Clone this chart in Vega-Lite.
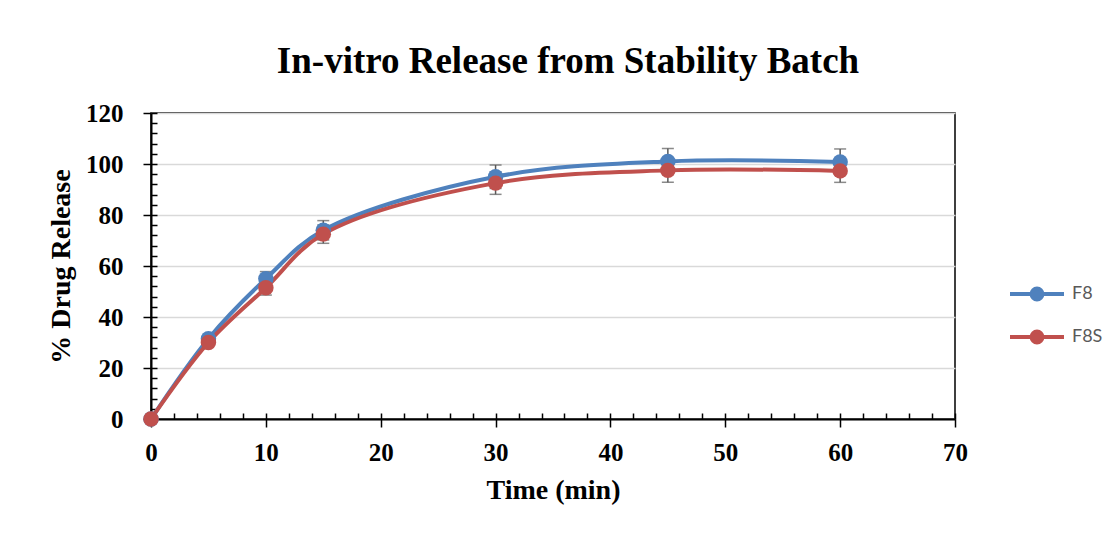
{
  "$schema": "https://vega.github.io/schema/vega-lite/v6.json",
  "width": 804,
  "height": 306,
  "autosize": {"type": "none"},
  "padding": {"left": 151, "top": 113, "right": 162, "bottom": 116},
  "background": "white",
  "config": {
    "view": {"stroke": "black", "strokeWidth": 1.5},
    "font": "Liberation Serif"
  },
  "title": {
    "text": "In-vitro Release from Stability Batch",
    "font": "Liberation Serif",
    "fontSize": 37,
    "fontWeight": "bold",
    "color": "black",
    "anchor": "middle",
    "frame": "group",
    "baseline": "alphabetic",
    "dx": 15,
    "offset": -9
  },
  "data": {
    "values": [
      {"time": 0, "series": "F8", "value": 0, "err": 0},
      {"time": 5, "series": "F8", "value": 31.5, "err": 1.2},
      {"time": 10, "series": "F8", "value": 55, "err": 2.8},
      {"time": 15, "series": "F8", "value": 74, "err": 3.8},
      {"time": 30, "series": "F8", "value": 95, "err": 4.6},
      {"time": 45, "series": "F8", "value": 101, "err": 5.1},
      {"time": 60, "series": "F8", "value": 100.8, "err": 5.1},
      {"time": 0, "series": "F8S", "value": 0, "err": 0},
      {"time": 5, "series": "F8S", "value": 30, "err": 1.2},
      {"time": 10, "series": "F8S", "value": 51.5, "err": 2.9},
      {"time": 15, "series": "F8S", "value": 72.5, "err": 3.6},
      {"time": 30, "series": "F8S", "value": 92.5, "err": 4.4},
      {"time": 45, "series": "F8S", "value": 97.5, "err": 4.7},
      {"time": 60, "series": "F8S", "value": 97.3, "err": 4.5}
    ]
  },
  "layer": [
    {
      "layer": [
        {
          "mark": {"type": "errorbar", "ticks": {"size": 12, "thickness": 1.5}, "color": "#595959", "thickness": 1.5},
          "encoding": {
            "x": {"field": "time", "type": "quantitative"},
            "y": {"field": "value", "type": "quantitative"},
            "yError": {"field": "err"},
            "detail": {"field": "series"}
          }
        },
        {
          "mark": {"type": "line", "interpolate": "catmull-rom", "strokeWidth": 4},
          "encoding": {
            "x": {"field": "time", "type": "quantitative"},
            "y": {"field": "value", "type": "quantitative"},
            "color": {
              "field": "series",
              "type": "nominal",
              "scale": {"domain": ["F8", "F8S"], "range": ["#4F81BD", "#C0504D"]},
              "legend": {
                "orient": "none",
                "legendX": 857,
                "legendY": 152,
                "title": null,
                "padding": 0,
                "labelFont": "Lato",
                "labelFontSize": 18,
                "labelColor": "#595959",
                "labelOffset": 6,
                "symbolType": "M-1,0L1,0M0.2,0A0.2,0.2,0,1,1,-0.2,0A0.2,0.2,0,1,1,0.2,0Z",
                "symbolSize": 2916,
                "symbolStrokeWidth": 4,
                "rowPadding": -14,
                "encode": {
                  "symbols": {
                    "update": {
                      "fill": {"scale": "color", "field": "value"},
                      "stroke": {"scale": "color", "field": "value"},
                      "strokeWidth": {"value": 4},
                      "opacity": {"value": 1}
                    }
                  }
                }
              }
            }
          }
        },
        {
          "mark": {"type": "point", "filled": true, "size": 240, "opacity": 1, "shape": "circle"},
          "encoding": {
            "x": {"field": "time", "type": "quantitative"},
            "y": {"field": "value", "type": "quantitative"},
            "color": {"field": "series", "type": "nominal"}
          }
        }
      ],
      "encoding": {
        "x": {
          "field": "time",
          "type": "quantitative",
          "scale": {"domain": [0, 70], "nice": false, "zero": false},
          "axis": {
            "orient": "bottom",
            "values": [0, 10, 20, 30, 40, 50, 60, 70],
            "grid": false,
            "labelFlush": false,
            "domainColor": "black",
            "domainWidth": 2,
            "tickColor": "black",
            "tickWidth": 1.5,
            "tickSize": 8,
            "labelFont": "Liberation Serif",
            "labelFontSize": 25,
            "labelFontWeight": "bold",
            "labelColor": "black",
            "labelPadding": 13,
            "title": "Time (min)",
            "titleFont": "Liberation Serif",
            "titleFontSize": 28,
            "titleFontWeight": "bold",
            "titleColor": "black",
            "titlePadding": 11
          }
        },
        "y": {
          "field": "value",
          "type": "quantitative",
          "scale": {"domain": [0, 120], "nice": false},
          "axis": {
            "orient": "left",
            "values": [0, 20, 40, 60, 80, 100, 120],
            "grid": true,
            "labelFlush": false,
            "gridColor": "#d9d9d9",
            "gridWidth": 1.5,
            "domainColor": "black",
            "domainWidth": 2,
            "tickColor": "black",
            "tickWidth": 1.5,
            "tickSize": 8,
            "labelFont": "Liberation Serif",
            "labelFontSize": 25,
            "labelFontWeight": "bold",
            "labelColor": "black",
            "labelPadding": 20,
            "title": "% Drug Release",
            "titleFont": "Liberation Serif",
            "titleFontSize": 28,
            "titleFontWeight": "bold",
            "titleColor": "black",
            "titlePadding": 10
          }
        }
      }
    },
    {
      "mark": {"type": "point", "opacity": 0},
      "encoding": {
        "x": {
          "field": "time",
          "type": "quantitative",
          "scale": {"domain": [0, 70], "nice": false, "zero": false},
          "axis": {
            "orient": "bottom",
            "values": [0, 2, 4, 6, 8, 10, 12, 14, 16, 18, 20, 22, 24, 26, 28, 30, 32, 34, 36, 38, 40, 42, 44, 46, 48, 50, 52, 54, 56, 58, 60, 62, 64, 66, 68, 70],
            "grid": false,
            "domain": false,
            "labels": false,
            "title": null,
            "tickColor": "black",
            "tickWidth": 1.5,
            "tickSize": -6
          }
        },
        "y": {
          "field": "value",
          "type": "quantitative",
          "scale": {"domain": [0, 120], "nice": false},
          "axis": {
            "orient": "left",
            "values": [0, 4, 8, 12, 16, 20, 24, 28, 32, 36, 40, 44, 48, 52, 56, 60, 64, 68, 72, 76, 80, 84, 88, 92, 96, 100, 104, 108, 112, 116, 120],
            "grid": false,
            "domain": false,
            "labels": false,
            "title": null,
            "tickColor": "black",
            "tickWidth": 1.5,
            "tickSize": -6
          }
        }
      }
    }
  ],
  "resolve": {"scale": {"x": "independent", "y": "independent"}}
}
